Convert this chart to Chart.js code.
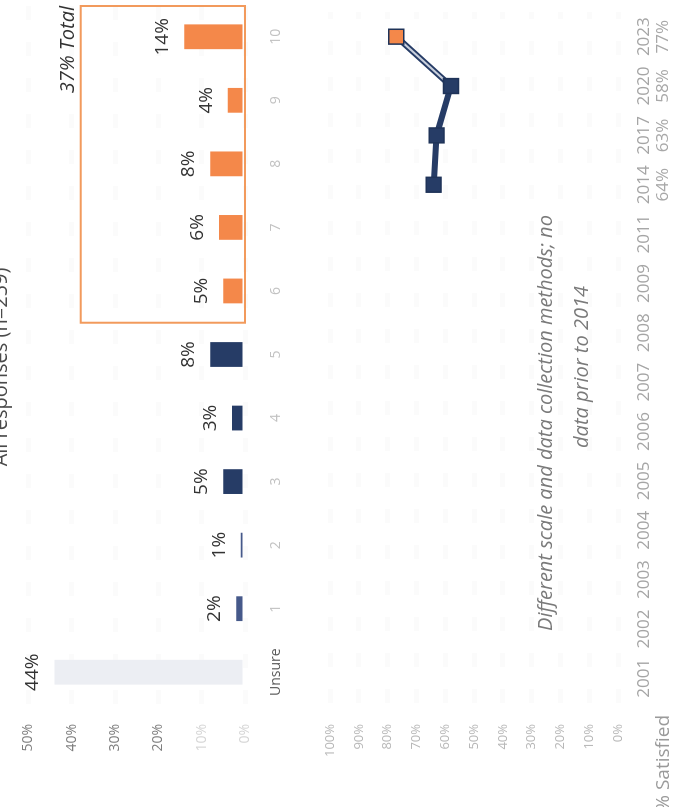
<!DOCTYPE html>
<html>
<head>
<meta charset="utf-8">
<script src="https://cdn.jsdelivr.net/npm/chart.js@4.4.0/dist/chart.umd.min.js"></script>
<style>
  html, body { margin: 0; padding: 0; background: #fff; overflow: hidden; }
  /* the whole sheet is laid out landscape and turned a quarter left */
  #sheet {
    position: absolute; left: 0; top: 807px;
    width: 807px; height: 677px;
    transform-origin: 0 0; transform: rotate(-90deg);
    background: #fff;
  }
  #ratingChart { position: absolute; left: 0; top: 0; }
  #trendChart { position: absolute; left: 0; top: 300px; }
</style>
</head>
<body>
<div id="sheet">
  <canvas id="ratingChart" width="807" height="290"></canvas>
  <canvas id="trendChart" width="807" height="377"></canvas>
</div>
<script>
var ratingLabels = ['Unsure', '1', '2', '3', '4', '5', '6', '7', '8', '9', '10'];
var ratingShares = [44, 2, 1, 5, 3, 8, 5, 6, 8, 4, 14];
var ratingTicks = [0, 10, 20, 30, 40, 50];

var surveyYears = ['2001', '2002', '2003', '2004', '2005', '2006', '2007', '2008', '2009', '2011', '2014', '2017', '2020', '2023'];
var satisfied = [null, null, null, null, null, null, null, null, null, null, 64, 63, 58, 77];
var satisfiedTicks = [0, 10, 20, 30, 40, 50, 60, 70, 80, 90, 100];

var navy = '#263c66';
var orange = '#f4884a';
var firstTop = 6; // ratings 6-10 are grouped in the box

var total = 0;
for (var i = firstTop; i < ratingShares.length; i++) total += ratingShares[i];

Chart.defaults.font.family = "'Open Sans', 'Noto Sans', sans-serif";
Chart.defaults.animation = false;

var barColors = ratingShares.map(function(v, i) {
    if (i === 0) return '#eceef3';
    if (i < 3) return '#46598a';
    if (i < firstTop) return navy;
    return orange;
});

var ratingExtras = {
    id: 'ratingExtras',
    afterDatasetsDraw: function(chart) {
        var ctx = chart.ctx;
        var xs = chart.scales.x, ys = chart.scales.y;
        ctx.save();

        // title, cut off by the top edge
        ctx.fillStyle = '#4a4a4a';
        ctx.font = "20px 'Open Sans'";
        ctx.textAlign = 'center';
        ctx.textBaseline = 'alphabetic';
        ctx.fillText('All responses (n=259)', 440, 7);

        // value labels
        ctx.fillStyle = '#333';
        ctx.font = "19px 'Open Sans'";
        chart.getDatasetMeta(0).data.forEach(function(bar, i) {
            ctx.fillText(ratingShares[i] + '%', bar.x, bar.y - 16);
        });

        // box around the top ratings
        var left = (xs.getPixelForValue(firstTop - 1) + xs.getPixelForValue(firstTop)) / 2;
        var right = chart.chartArea.right - 1;
        var top = ys.getPixelForValue(total) - 4;
        var bottom = ys.getPixelForValue(0);
        ctx.strokeStyle = '#f29a5c';
        ctx.lineWidth = 2;
        ctx.strokeRect(left, top, right - left, bottom - top);

        ctx.fillStyle = '#333';
        ctx.font = "italic 20px 'Open Sans'";
        ctx.textAlign = 'right';
        ctx.fillText(total + '% Total', right, top - 7);
        ctx.restore();
    }
};

new Chart(document.getElementById('ratingChart'), {
    type: 'bar',
    data: {
        labels: ratingLabels,
        datasets: [{
            data: ratingShares,
            backgroundColor: barColors,
            barPercentage: 0.39,
            categoryPercentage: 1
        }]
    },
    options: {
        responsive: false,
        layout: { padding: { top: 17, right: 5 } },
        plugins: { legend: { display: false }, tooltip: { enabled: false } },
        scales: {
            x: {
                grid: { display: false },
                border: { display: false },
                afterFit: function(scale) { scale.height = 45; },
                ticks: {
                    padding: 15,
                    font: { size: 14 },
                    color: function(c) { return c.index === 0 ? '#5a5a5a' : '#c2c2c2'; }
                }
            },
            y: {
                min: 0,
                max: 50,
                afterFit: function(scale) { scale.width = 103; },
                afterBuildTicks: function(scale) {
                    scale.ticks = ratingTicks.map(function(v) { return { value: v }; });
                },
                grid: { color: 'rgba(0,0,0,0.015)', lineWidth: 5, drawTicks: false },
                border: { display: false, dash: [14, 22] },
                ticks: {
                    padding: 20,
                    font: { size: 14 },
                    color: function(c) { return c.tick.value < 20 ? '#d6d6d6' : '#7f7f7f'; },
                    callback: function(v) { return v + '%'; }
                }
            }
        }
    },
    plugins: [ratingExtras]
});

var last = satisfied.length - 1;

var trendExtras = {
    id: 'trendExtras',
    afterDraw: function(chart) {
        var ctx = chart.ctx;
        var xs = chart.scales.x;
        ctx.save();

        // note over the years without data
        ctx.fillStyle = '#7a7a7a';
        ctx.font = "italic 20px 'Open Sans'";
        ctx.textAlign = 'center';
        ctx.textBaseline = 'alphabetic';
        ctx.fillText('Different scale and data collection methods; no', 384, 252);
        ctx.fillText('data prior to 2014', 440, 288);

        // row of values under the years
        ctx.fillStyle = '#a8a8a8';
        ctx.font = "17px 'Open Sans'";
        satisfied.forEach(function(v, i) {
            if (v === null) return;
            ctx.fillText(v + '%', xs.getPixelForValue(i), 368);
        });

        ctx.fillStyle = '#9a9a9a';
        ctx.font = "19px 'Open Sans'";
        ctx.textAlign = 'right';
        ctx.fillText('% Satisfied', 92, 369);
        ctx.restore();
    }
};

new Chart(document.getElementById('trendChart'), {
    type: 'line',
    data: {
        labels: surveyYears,
        datasets: [{
            // markers, drawn on top
            data: satisfied,
            showLine: false,
            pointStyle: 'rect',
            pointRadius: 10.5,
            pointBackgroundColor: satisfied.map(function(v, i) { return i === last ? orange : navy; }),
            pointBorderColor: '#1f3358',
            pointBorderWidth: 1.5
        }, {
            // light centre on the newest segment
            data: satisfied.map(function(v, i) { return i >= last - 1 ? v : null; }),
            borderColor: '#c9d0dd',
            borderWidth: 2,
            pointRadius: 0
        }, {
            data: satisfied,
            borderColor: navy,
            borderWidth: 6,
            pointRadius: 0
        }]
    },
    options: {
        responsive: false,
        layout: { padding: { top: 30, right: 5 } },
        plugins: { legend: { display: false }, tooltip: { enabled: false } },
        scales: {
            x: {
                offset: true,
                grid: { display: false },
                border: { display: false },
                afterFit: function(scale) { scale.height = 59; },
                ticks: {
                    autoSkip: false,
                    maxRotation: 0,
                    padding: 8,
                    font: { size: 17 },
                    color: '#a5a5a5'
                }
            },
            y: {
                min: 0,
                max: 100,
                afterFit: function(scale) { scale.width = 104; },
                afterBuildTicks: function(scale) {
                    scale.ticks = satisfiedTicks.map(function(v) { return { value: v }; });
                },
                grid: { color: 'rgba(0,0,0,0.015)', lineWidth: 5, drawTicks: false },
                border: { display: false, dash: [14, 22] },
                ticks: {
                    padding: 21,
                    font: { size: 13 },
                    color: '#b8b8b8',
                    callback: function(v) { return v + '%'; }
                }
            }
        }
    },
    plugins: [trendExtras]
});
</script>
</body>
</html>
